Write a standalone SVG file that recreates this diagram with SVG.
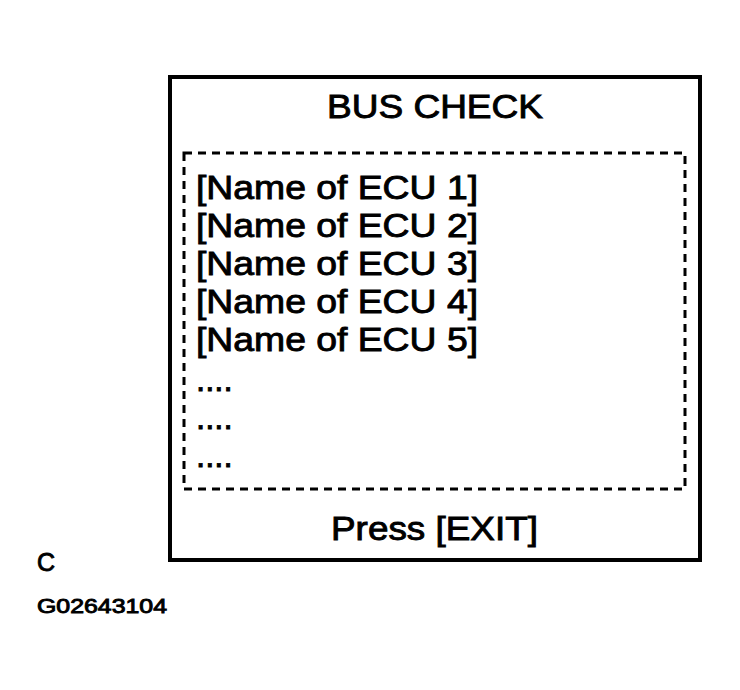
<svg xmlns="http://www.w3.org/2000/svg" width="740" height="690" viewBox="0 0 740 690">
<style>text{font-family:"Liberation Sans",Arial,sans-serif;fill:#000;stroke:#000;stroke-width:0.9}.t{font-size:33px}</style>
<rect width="740" height="690" fill="#fff"/>
<g id="screen">
<rect x="170" y="77" width="530" height="483" fill="none" stroke="#000" stroke-width="4"/>
<text class="t" x="327" y="118" textLength="216" lengthAdjust="spacingAndGlyphs">BUS CHECK</text>
<rect x="184" y="153" width="501" height="336" fill="none" stroke="#000" stroke-width="3" stroke-dasharray="8,6"/>
<text class="t" x="196" y="199" textLength="282" lengthAdjust="spacingAndGlyphs">[Name of ECU 1]</text>
<text class="t" x="196" y="237" textLength="282" lengthAdjust="spacingAndGlyphs">[Name of ECU 2]</text>
<text class="t" x="196" y="275" textLength="282" lengthAdjust="spacingAndGlyphs">[Name of ECU 3]</text>
<text class="t" x="196" y="313" textLength="282" lengthAdjust="spacingAndGlyphs">[Name of ECU 4]</text>
<text class="t" x="196" y="351" textLength="282" lengthAdjust="spacingAndGlyphs">[Name of ECU 5]</text>
<text class="t" x="196" y="391">....</text>
<text class="t" x="196" y="429">....</text>
<text class="t" x="196" y="467">....</text>
<text class="t" x="331" y="540" textLength="207" lengthAdjust="spacingAndGlyphs">Press [EXIT]</text>
</g>
<g id="labels">
<text x="37" y="571" font-size="25">C</text>
<text x="37" y="613" font-size="20" textLength="130" lengthAdjust="spacingAndGlyphs">G02643104</text>
</g>
<g id="connectors"/>
</svg>
